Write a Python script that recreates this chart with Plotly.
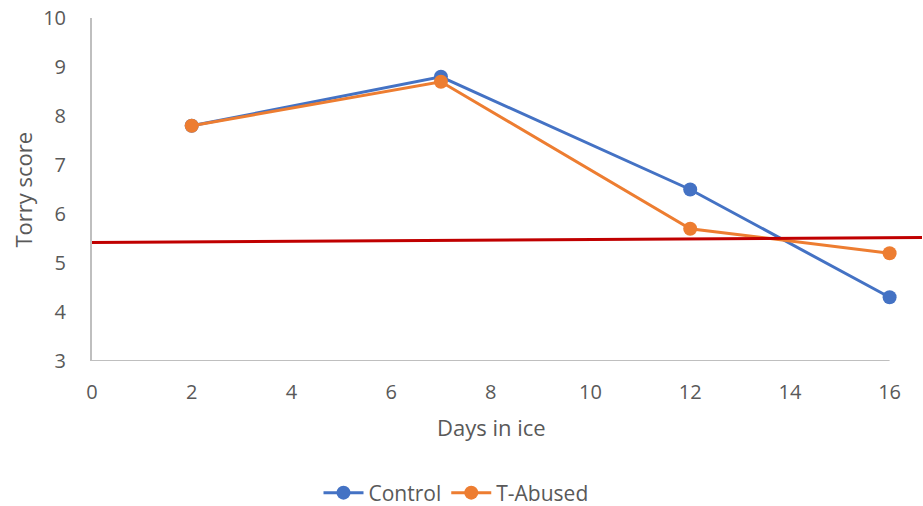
import plotly.graph_objects as go

# Torry freshness score over storage days in ice
days = [2, 7, 12, 16]
control = [7.8, 8.8, 6.5, 4.3]
t_abused = [7.8, 8.7, 5.7, 5.2]

# Rejection threshold line (slightly sloped reference)
limit_x = [0, 16.65]
limit_y = [5.42, 5.52]

x_ticks = [0, 2, 4, 6, 8, 10, 12, 14, 16]
y_ticks = [3, 4, 5, 6, 7, 8, 9, 10]

BLUE = "#4472C4"
ORANGE = "#ED7D31"
RED = "#C00000"
GREY_TXT = "#595959"
AXIS_GREY = "#BFBFBF"
FONT = "Open Sans, Liberation Sans, sans-serif"

fig = go.Figure()

fig.add_trace(go.Scatter(
    x=days, y=control, name="Control", mode="lines+markers",
    line=dict(color=BLUE, width=3), marker=dict(size=14, color=BLUE),
))
fig.add_trace(go.Scatter(
    x=days, y=t_abused, name="T-Abused", mode="lines+markers",
    line=dict(color=ORANGE, width=3), marker=dict(size=14, color=ORANGE),
))
fig.add_trace(go.Scatter(
    x=limit_x, y=limit_y, mode="lines", showlegend=False, hoverinfo="skip",
    line=dict(color=RED, width=3), cliponaxis=False,
))

# horizontal axis line spans only the labelled range
fig.add_shape(type="line", xref="x", yref="y", x0=x_ticks[0], x1=x_ticks[-1],
              y0=y_ticks[0], y1=y_ticks[0], line=dict(color=AXIS_GREY, width=2),
              layer="below")

fig.update_layout(
    width=923, height=506,
    margin=dict(l=92, r=1, t=18, b=145, autoexpand=False),
    plot_bgcolor="white", paper_bgcolor="white",
    font=dict(family=FONT, color=GREY_TXT, size=18),
    showlegend=True,
    legend=dict(orientation="h", xref="container", yref="container",
                x=456 / 923, xanchor="center", y=1 - 493 / 506, yanchor="middle",
                font=dict(size=21, color=GREY_TXT), itemwidth=40, tracegroupgap=0),
    xaxis=dict(range=[0, limit_x[1]], tickvals=x_ticks, showgrid=False, zeroline=False,
               showline=False, ticks="", ticklabelstandoff=17,
               tickfont=dict(size=20, color=GREY_TXT)),
    yaxis=dict(range=[3, 10], tickvals=y_ticks, showgrid=False, zeroline=False,
               showline=True, linecolor=AXIS_GREY, linewidth=2, ticks="",
               ticklabelstandoff=20, tickfont=dict(size=20, color=GREY_TXT)),
    annotations=[
        dict(text="Torry score", xref="paper", yref="paper", x=-70 / 830, y=0.5,
             textangle=-90, showarrow=False, xanchor="center", yanchor="middle",
             font=dict(size=22, color=GREY_TXT)),
        dict(text="Days in ice", xref="paper", yref="paper", x=(491 - 92) / 830,
             y=(361 - 427) / 343, showarrow=False, xanchor="center", yanchor="middle",
             font=dict(size=22, color=GREY_TXT)),
    ],
)

fig.write_html("out.html")
